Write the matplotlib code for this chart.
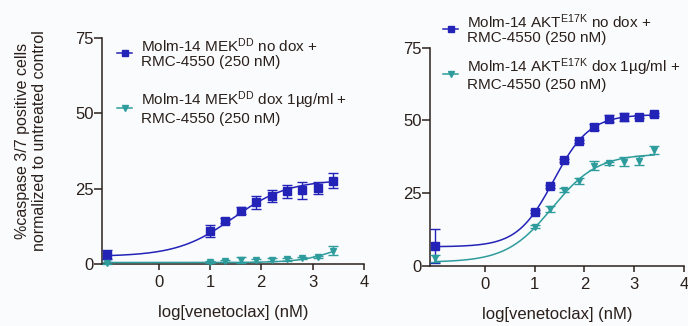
import numpy as np
import matplotlib
matplotlib.use("Agg")
import matplotlib.pyplot as plt
from matplotlib.lines import Line2D

plt.rcParams['font.family'] = ['Liberation Sans', 'DejaVu Sans']
plt.rcParams['mathtext.fontset'] = 'custom'
plt.rcParams['mathtext.rm'] = 'Liberation Sans'
plt.rcParams['mathtext.it'] = 'Liberation Sans:italic'
plt.rcParams['mathtext.bf'] = 'Liberation Sans:bold'

# ---------------- data ----------------
log_conc = [-1.0, 1.0, 1.3, 1.6, 1.9, 2.2, 2.5, 2.8, 3.1, 3.4]

mek_nodox = [3.1, 10.8, 14.4, 17.7, 20.5, 22.5, 24.1, 24.4, 25.1, 27.7]
mek_nodox_err = [1.5, 2.0, 0.8, 1.2, 2.2, 2.0, 2.2, 2.8, 2.0, 2.5]
mek_dox = [0.3, 0.7, 0.9, 1.4, 1.3, 1.4, 1.5, 1.9, 2.4, 4.4]
mek_dox_err = [0.3, 0.3, 0.3, 1.0, 0.5, 0.5, 0.4, 0.4, 0.4, 1.5]

akt_nodox = [6.8, 18.5, 27.4, 36.2, 42.8, 47.7, 50.6, 51.3, 51.3, 52.1]
akt_nodox_err = [5.8, 0.5, 0.5, 0.5, 0.6, 1.0, 1.3, 1.4, 0.5, 0.5]
akt_dox = [2.5, 13.4, 19.6, 26.0, 29.2, 34.4, 35.3, 35.8, 36.1, 39.8]
akt_dox_err = [1.2, 0.5, 1.0, 0.8, 1.0, 1.6, 0.5, 1.5, 1.5, 1.5]

# 4-parameter logistic fit parameters: bottom, top, logEC50, hill
fit_mek_nodox = [2.5, 28.0, 1.45, 0.8]
fit_mek_dox = [0.5, 9.0, 3.5, 1.2]
fit_akt_nodox = [6.5, 52.0, 1.38, 1.2]
fit_akt_dox = [1.2, 38.5, 1.35, 0.95]

labels_left = ["Molm-14 MEK$^{\\mathrm{DD}}$ no dox +\nRMC-4550 (250 nM)",
               "Molm-14 MEK$^{\\mathrm{DD}}$ dox 1\u00b5g/ml +\nRMC-4550 (250 nM)"]
labels_right = ["Molm-14 AKT$^{\\mathrm{E17K}}$ no dox +\nRMC-4550 (250 nM)",
                "Molm-14 AKT$^{\\mathrm{E17K}}$ dox 1\u00b5g/ml +\nRMC-4550 (250 nM)"]
x_ticks = [0, 1, 2, 3, 4]
y_ticks = [0, 25, 50, 75]
xlabel = "log[venetoclax] (nM)"
ylabel = "%caspase 3/7 positive cells\nnormalized to untreated control"

# ---------------- style ----------------
BLUE = '#2323b8'
TEAL = '#2e9c9c'
INK = '#2a201b'
BG = '#fafbfd'


def fourpl(x, p):
    b, t, ec, h = p
    return b + (t - b) / (1 + 10 ** ((ec - x) * h))


fig = plt.figure(figsize=(6.88, 3.26), dpi=100, facecolor=BG)
ax1 = fig.add_axes([102 / 688, 1 - 264 / 326, 262 / 688, 226 / 326])
ax2 = fig.add_axes([430 / 688, 1 - 265.7 / 326, 254 / 688, 218 / 326])

xs = np.linspace(min(log_conc), max(log_conc), 300)


def draw(ax, y1, e1, p1, y2, e2, p2, labels, lab_spacing, anchor):
    ax.set_facecolor(BG)
    h1 = ax.errorbar(log_conc, y1, yerr=e1, fmt='s', color=BLUE, ms=5.8,
                     capsize=3.8, elinewidth=1.0, capthick=1.0, clip_on=False, zorder=4)
    ax.plot(xs, fourpl(xs, p1), color=BLUE, lw=1.1, clip_on=False, zorder=3)
    h2 = ax.errorbar(log_conc, y2, yerr=e2, fmt='v', color=TEAL, ms=4.8,
                     capsize=3.8, elinewidth=1.0, capthick=1.0, clip_on=False, zorder=4)
    ax.plot(xs, fourpl(xs, p2), color=TEAL, lw=1.1, clip_on=False, zorder=3)
    for a in (h1, h2):
        for b in a[1]:
            b.set_clip_on(False)
        for b in a[2]:
            b.set_clip_on(False)

    ax.set_xlim(-1.1, 4)
    ax.set_ylim(0, 75)
    ax.set_xticks(x_ticks)
    ax.set_yticks(y_ticks)
    for s in ('top', 'right'):
        ax.spines[s].set_visible(False)
    for s in ('left', 'bottom'):
        ax.spines[s].set_color(INK)
        ax.spines[s].set_linewidth(1.1)
    ax.tick_params(axis='both', colors=INK, labelcolor=INK, labelsize=12,
                   width=1.1, direction='out')
    ax.tick_params(axis='y', length=5.5, pad=0.5)
    ax.tick_params(axis='x', length=4.5, pad=3.5)
    ax.set_xlabel(xlabel, fontsize=12, color=INK, labelpad=11)

    hl1 = Line2D([], [], color=BLUE, marker='s', ms=5, lw=1.1)
    hl2 = Line2D([], [], color=TEAL, marker='v', ms=4.5, lw=1.1)
    leg = ax.legend([hl1, hl2], labels, loc='upper left',
                    bbox_to_anchor=anchor, bbox_transform=fig.transFigure,
                    frameon=False, fontsize=11, handlelength=1.0,
                    handletextpad=0.6, labelspacing=lab_spacing,
                    borderpad=0, borderaxespad=0)
    for t in leg.get_texts():
        t.set_color(INK)
        t.set_linespacing(1.05)
    return leg


draw(ax1, mek_nodox, mek_nodox_err, fit_mek_nodox, mek_dox, mek_dox_err, fit_mek_dox,
     labels_left, 1.35, (117 / 688, 1 - 36 / 326))
draw(ax2, akt_nodox, akt_nodox_err, fit_akt_nodox, akt_dox, akt_dox_err, fit_akt_dox,
     labels_right, 0.72, (443 / 688, 1 - 12 / 326))

fig.text(31 / 688, 1 - 141 / 326, ylabel, rotation=90, ha='center', va='center',
         fontsize=11.5, color=INK, linespacing=1.2)

fig.savefig('out.png', dpi=100, facecolor=BG)
